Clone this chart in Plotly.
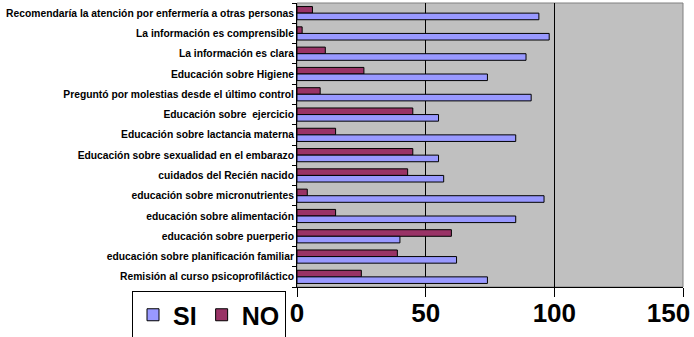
import plotly.graph_objects as go

categories = [
    "Recomendaría la atención por enfermería a otras personas",
    "La información es comprensible",
    "La información es clara",
    "Educación sobre Higiene",
    "Preguntó por molestias desde el último control",
    "Educación sobre  ejercicio",
    "Educación sobre lactancia materna",
    "Educación sobre sexualidad en el embarazo",
    "cuidados del Recién nacido",
    "educación sobre micronutrientes",
    "educación sobre alimentación",
    "educación sobre puerperio",
    "educación sobre planificación familiar",
    "Remisión al curso psicoprofiláctico",
]
si_values = [94, 98, 89, 74, 91, 55, 85, 55, 57, 96, 85, 40, 62, 74]
no_values = [6, 2, 11, 26, 9, 45, 15, 45, 43, 4, 15, 60, 39, 25]
x_ticks = [0, 50, 100, 150]
x_tick_labels = ["0", "50", "100", "150\u00a0\u00a0\u00a0\u00a0"]

FONT = "Arial, Liberation Sans, sans-serif"

fig = go.Figure()
fig.add_trace(go.Bar(
    name="<b>NO</b>", y=categories, x=no_values, orientation="h",
    marker=dict(color="#993366", line=dict(color="black", width=1)),
))
fig.add_trace(go.Bar(
    name="<b>SI</b>", y=categories, x=si_values, orientation="h",
    marker=dict(color="#9999FF", line=dict(color="black", width=1)),
))

fig.update_layout(
    width=694, height=337,
    margin=dict(l=297, r=11, t=3, b=50, autoexpand=False),
    paper_bgcolor="white",
    plot_bgcolor="#C0C0C0",
    barmode="group",
    bargap=0.35,
    bargroupgap=0,
    font=dict(family=FONT, color="black"),
    showlegend=True,
    legend=dict(
        orientation="h", traceorder="reversed",
        xref="container", yref="container",
        x=132 / 694, xanchor="left", y=1 - 291 / 337, yanchor="top",
        bgcolor="white", bordercolor="black", borderwidth=1,
        font=dict(family=FONT, size=25, color="black"),
        itemwidth=30,
    ),
    xaxis=dict(
        range=[0, 150], tickvals=x_ticks, ticktext=[f"<b>{t}</b>" for t in x_tick_labels],
        ticks="outside", ticklen=9, tickcolor="black", tickwidth=1,
        tickfont=dict(family=FONT, size=26, color="black"),
        ticklabeloverflow="allow", ticklabelstandoff=-6,
        showgrid=False, zeroline=False,
        showline=True, linecolor="black", linewidth=1,
        minor=dict(tickvals=[50, 100], showgrid=True, gridcolor="black", gridwidth=1, ticks=""),
        automargin=False, fixedrange=True,
    ),
    yaxis=dict(
        autorange="reversed", type="category",
        tickson="boundaries", ticks="outside", ticklen=4, tickcolor="black",
        tickvals=categories, ticktext=[f"<b>{c}</b>" for c in categories],
        tickfont=dict(family=FONT, size=10.3, color="black"),
        showgrid=False, zeroline=False,
        showline=True, linecolor="black", linewidth=1,
        automargin=False, fixedrange=True,
    ),
    shapes=[dict(type="rect", xref="paper", yref="paper", x0=0, x1=1, y0=0, y1=1,
                 line=dict(color="#808080", width=1), layer="below")],
)

fig.write_html(
    "out.html",
    config={"displayModeBar": False},
    post_script="document.body.style.margin='0';document.body.style.overflow='hidden';",
)
